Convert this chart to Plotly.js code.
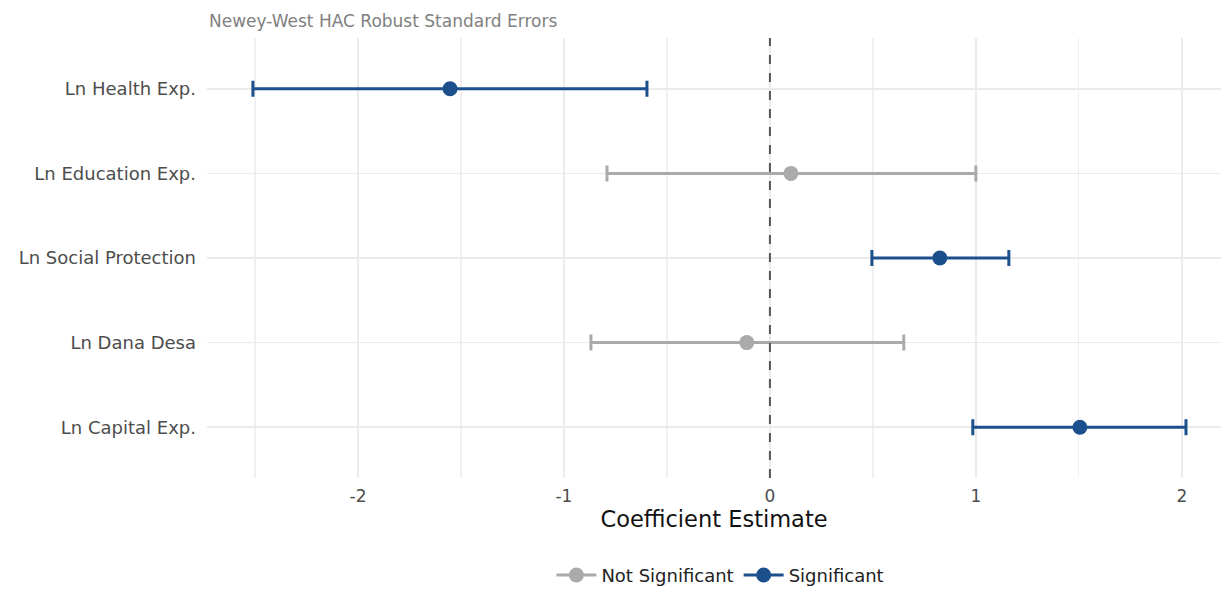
<!DOCTYPE html>
<html>
<head>
<meta charset="utf-8">
<script src="https://cdn.plot.ly/plotly-3.0.1.min.js"></script>
<style>html,body{margin:0;padding:0;background:#fff;}#chart{width:1221px;height:590px;}</style>
</head>
<body>
<div id="chart"></div>
<script>
// Data
const variables = ["Ln Health Exp.", "Ln Education Exp.", "Ln Social Protection", "Ln Dana Desa", "Ln Capital Exp."];
const estimates = [-1.553, 0.102, 0.825, -0.112, 1.505];
const lowerCI   = [-2.51, -0.791, 0.495, -0.869, 0.985];
const upperCI   = [-0.597, 1.0, 1.16, 0.650, 2.02];
const significant = [true, false, true, false, true];
const groupNames = ["Not Significant", "Significant"];
const groupColors = {"Not Significant": "#aaaaaa", "Significant": "#1c508c"};
const xTickVals = [-2, -1, 0, 1, 2];
const subtitle = "Newey-West HAC Robust Standard Errors";
const xTitle = "Coefficient Estimate";

const traces = [];
groupNames.forEach(g => {
  const idx = variables.map((v, i) => i).filter(i => (significant[i] ? "Significant" : "Not Significant") === g);
  traces.push({
    type: "scatter", mode: "markers",
    x: idx.map(i => estimates[i]),
    y: idx.map(i => variables[i]),
    marker: {color: groupColors[g], size: 15},
    error_x: {
      type: "data", symmetric: false,
      array: idx.map(i => upperCI[i] - estimates[i]),
      arrayminus: idx.map(i => estimates[i] - lowerCI[i]),
      color: groupColors[g], thickness: 3, width: 8
    },
    showlegend: false, hoverinfo: "x+y"
  });
});
// legend entries (line + point key like ggplot)
groupNames.forEach(g => {
  traces.push({
    type: "scatter", mode: "lines+markers", x: [null], y: [null],
    name: g, line: {color: groupColors[g], width: 3},
    marker: {color: groupColors[g], size: 15}, showlegend: true
  });
});

const FONT = "DejaVu Sans, Liberation Sans, Arial, sans-serif";
const layout = {
  width: 1221, height: 590,
  margin: {l: 207, r: 0, t: 38, b: 112},
  paper_bgcolor: "#ffffff", plot_bgcolor: "#ffffff",
  font: {family: FONT, color: "#4d4d4d", size: 16},
  xaxis: {
    range: [-2.733, 2.19],
    tickvals: xTickVals, ticktext: xTickVals.map(String),
    showgrid: true, gridcolor: "#ebebeb", gridwidth: 1.5,
    minor: {dtick: 0.5, tick0: 0, showgrid: true, gridcolor: "#f0f0f0", gridwidth: 1.2},
    zeroline: false, showline: false, ticks: "",
    tickfont: {size: 17, color: "#4d4d4d"},
    ticklabelstandoff: 6,
    title: {text: xTitle, font: {size: 22.5, color: "#111111"}, standoff: 5}
  },
  yaxis: {
    type: "category", categoryorder: "array", categoryarray: variables,
    range: [4.6, -0.6],
    showgrid: true, gridcolor: "#ebebeb", gridwidth: 1.5,
    zeroline: false, showline: false, ticks: "",
    tickfont: {size: 18, color: "#4d4d4d"},
    ticklabelstandoff: 10
  },
  shapes: [{
    type: "line", xref: "x", yref: "paper", x0: 0, x1: 0, y0: 0, y1: 1,
    line: {color: "#555555", width: 2, dash: "dash"}, layer: "above"
  }],
  annotations: [{
    text: subtitle, xref: "paper", yref: "paper", x: 0, y: 1, xanchor: "left", yanchor: "bottom",
    yshift: 5, showarrow: false, font: {size: 17, color: "#808080"}
  }],
  legend: {
    orientation: "h", x: 0.59, xref: "container", xanchor: "center",
    y: 0.025, yref: "container", yanchor: "middle",
    font: {size: 18, color: "#222222"}, itemwidth: 40
  },
  showlegend: true
};

Plotly.newPlot("chart", traces, layout, {displayModeBar: false, staticPlot: true});
</script>
</body>
</html>
